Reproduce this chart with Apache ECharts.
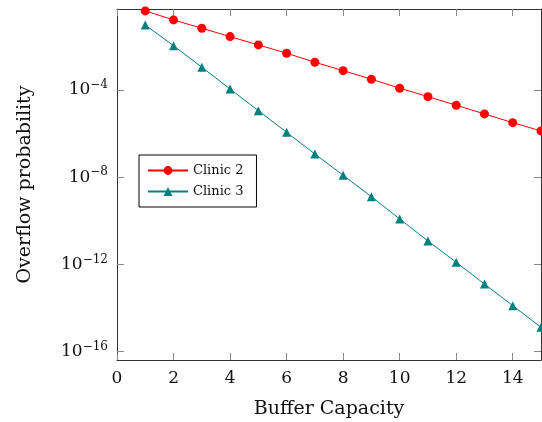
<!DOCTYPE html>
<html>
<head>
<meta charset="utf-8">
<script src="https://cdn.jsdelivr.net/npm/echarts@6/dist/echarts.min.js"></script>
<style>
    html, body { margin: 0; padding: 0; background: #fff; }
    #chart { width: 542px; height: 422px; }
</style>
</head>
<body>
<div id="chart"></div>
<script>
// 缓冲区容量
var buffer_capacity = [1, 2, 3, 4, 5, 6, 7, 8, 9, 10, 11, 12, 13, 14, 15];
// 溢出概率
var clinic2 = [0.419, 0.162, 0.0675, 0.0278, 0.0116, 0.00482, 0.00186, 7.67e-4,
               3.10e-4, 1.20e-4, 4.93e-5, 1.99e-5, 7.94e-6, 3.17e-6, 1.32e-6];
var clinic3 = [0.095, 0.0107, 1.10e-3, 1.11e-4, 1.12e-5, 1.15e-6, 1.16e-7, 1.23e-8,
               1.28e-9, 1.22e-10, 1.19e-11, 1.26e-12, 1.27e-13, 1.29e-14, 1.32e-15];
// 坐标轴刻度
var y_ticks = [1e-16, 1e-12, 1e-8, 1e-4];
var x_ticks = [0, 2, 4, 6, 8, 10, 12, 14];
var y_min = Math.pow(10, -16.38);
var y_max = Math.pow(10, -0.29);

var font = '"DejaVu Serif", "Liberation Serif", serif';

function pairs(xs, ys){
    var out = [];
    for(var i = 0; i < xs.length; i++){
        out.push([xs[i], ys[i]]);
    }
    return out;
}

function supLabel(v){
    var e = Math.round(Math.log(v) / Math.LN10);
    return '{b|10}{s|\u2212' + Math.abs(e) + '}';
}

var frame = { show: true, onZero: false, lineStyle: { color: '#333', width: 1 } };
function ticks(vals){
    return { show: true, inside: true, length: 7, customValues: vals, lineStyle: { color: '#888', width: 1 } };
}

var option = {
    animation: false,
    grid: { left: 117, right: 1, top: 9, bottom: 62, containLabel: false, outerBoundsMode: 'none' },
    xAxis: [{
        type: 'value', min: 0, max: 15,
        name: 'Buffer Capacity', nameLocation: 'middle', nameGap: 40,
        nameTextStyle: { fontFamily: font, fontSize: 19, color: '#111' },
        axisLine: frame, axisTick: ticks(x_ticks), splitLine: { show: false },
        axisLabel: { customValues: x_ticks, fontFamily: font, fontSize: 17, color: '#111', margin: 10 }
    }, {
        type: 'value', min: 0, max: 15, position: 'top',
        axisLine: frame, axisTick: ticks(x_ticks), splitLine: { show: false },
        axisLabel: { show: false }
    }],
    yAxis: [{
        type: 'log', min: y_min, max: y_max,
        name: 'Overflow probability', nameLocation: 'middle', nameGap: 82,
        nameTextStyle: { fontFamily: font, fontSize: 19, color: '#111' },
        axisLine: frame, axisTick: ticks(y_ticks), splitLine: { show: false },
        axisLabel: {
            customValues: y_ticks,
            margin: 9,
            formatter: supLabel,
            rich: {
                b: { fontFamily: font, fontSize: 17, color: '#111' },
                s: { fontFamily: font, fontSize: 12, color: '#111', padding: [0, 0, 10, 0] }
            }
        }
    }, {
        type: 'log', min: y_min, max: y_max, position: 'right',
        axisLine: frame, axisTick: ticks(y_ticks), splitLine: { show: false },
        axisLabel: { show: false }
    }],
    legend: {
        orient: 'vertical', left: 139, top: 155,
        padding: [9, 13, 9, 8], itemGap: 8,
        itemWidth: 40, itemHeight: 11,
        borderColor: '#000', borderWidth: 1, borderRadius: 0,
        textStyle: { fontFamily: font, fontSize: 13, color: '#111' },
        data: ['Clinic 2', 'Clinic 3']
    },
    series: [{
        name: 'Clinic 2', type: 'line',
        data: pairs(buffer_capacity, clinic2),
        symbol: 'circle', symbolSize: 9,
        itemStyle: { color: '#ff0000' },
        lineStyle: { color: '#ff0000', width: 1 }
    }, {
        name: 'Clinic 3', type: 'line',
        data: pairs(buffer_capacity, clinic3),
        symbol: 'triangle', symbolSize: 9,
        itemStyle: { color: '#008080' },
        lineStyle: { color: '#008080', width: 1 }
    }]
};

var chart = echarts.init(document.getElementById('chart'));
chart.setOption(option);
</script>
</body>
</html>
